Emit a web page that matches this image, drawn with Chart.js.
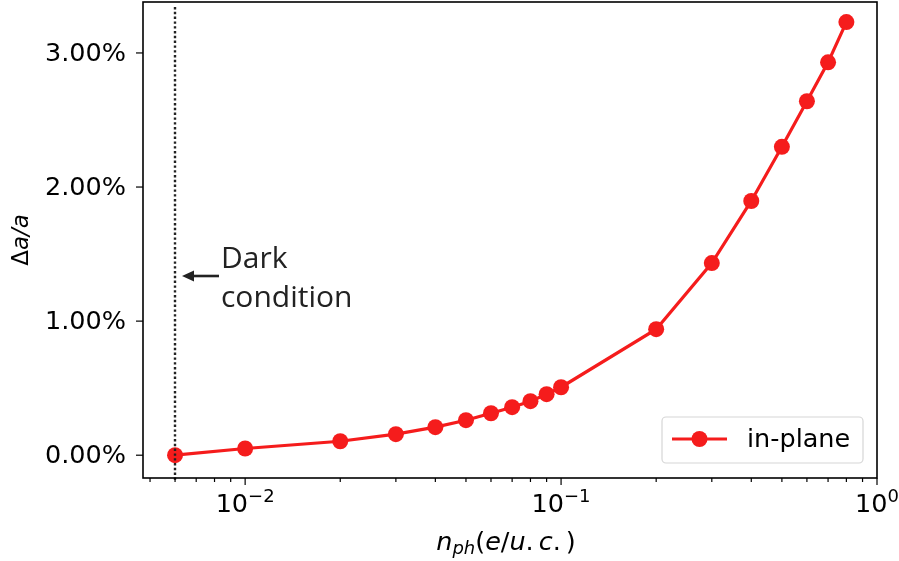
<!DOCTYPE html>
<html>
<head>
<meta charset="utf-8">
<script src="https://cdn.jsdelivr.net/npm/chart.js@4/dist/chart.umd.min.js"></script>
<style>
    html, body { margin: 0; padding: 0; background: #fff; }
    #wrap { width: 899px; height: 561px; position: relative; }
</style>
</head>
<body>
<div id="wrap"><canvas id="chart" width="899" height="561"></canvas></div>
<script>
// photo-excited carrier density (e/u.c.) and in-plane strain (%)
const nph = [0.006, 0.01, 0.02, 0.03, 0.04, 0.05, 0.06, 0.07, 0.08, 0.09, 0.1, 0.2, 0.3, 0.4, 0.5, 0.6, 0.7, 0.8];
const inPlane = [0, 0.05, 0.104, 0.157, 0.209, 0.261, 0.313, 0.358, 0.403, 0.455, 0.507, 0.94, 1.433, 1.896, 2.30, 2.64, 2.93, 3.23];

const yTicks = [0, 1, 2, 3];
const xMajor = [0.01, 0.1, 1];
const xMinor = [0.005, 0.006, 0.007, 0.008, 0.009, 0.02, 0.03, 0.04, 0.05, 0.06, 0.07, 0.08, 0.09,
                0.2, 0.3, 0.4, 0.5, 0.6, 0.7, 0.8, 0.9];
const darkCondition = 0.006;

const RED = '#f51c1c';
const MPL_FONT = '"DejaVu Sans", sans-serif';
const FS = 25.5;

// matplotlib-ish axes decorations, placed through the chart's own scales
const axesDecor = {
    id: 'axesDecor',
    afterDatasetsDraw(chart) {
        const { ctx, chartArea: a, scales: { x, y } } = chart;
        ctx.save();

        // dark-condition marker line
        const xd = Math.round(x.getPixelForValue(darkCondition));
        ctx.strokeStyle = '#222';
        ctx.lineWidth = 2.4;
        ctx.setLineDash([2.4, 2.4]);
        ctx.beginPath();
        ctx.moveTo(xd, 7);
        ctx.lineTo(xd, a.bottom + 4);
        ctx.stroke();
        ctx.setLineDash([]);

        // frame
        ctx.strokeStyle = '#000';
        ctx.lineWidth = 1.6;
        ctx.strokeRect(a.left, a.top, a.right - a.left, a.bottom - a.top);

        // y ticks + labels
        ctx.lineWidth = 1.2;
        ctx.fillStyle = '#000';
        ctx.font = FS + 'px ' + MPL_FONT;
        ctx.textAlign = 'right';
        ctx.textBaseline = 'middle';
        yTicks.forEach(v => {
            const py = y.getPixelForValue(v);
            ctx.beginPath();
            ctx.moveTo(a.left, py);
            ctx.lineTo(a.left - 7, py);
            ctx.stroke();
            ctx.fillText(v.toFixed(2) + '%', a.left - 17, py + 1);
        });

        // x ticks
        xMinor.forEach(v => {
            const px = x.getPixelForValue(v);
            ctx.beginPath();
            ctx.moveTo(px, a.bottom);
            ctx.lineTo(px, a.bottom + 4);
            ctx.stroke();
        });
        xMajor.forEach(v => {
            const px = x.getPixelForValue(v);
            ctx.beginPath();
            ctx.moveTo(px, a.bottom);
            ctx.lineTo(px, a.bottom + 7);
            ctx.stroke();

            // 10^k label
            const k = Math.round(Math.log10(v));
            const sup = k === 0 ? '0' : '\u2212' + Math.abs(k);
            ctx.textBaseline = 'alphabetic';
            ctx.textAlign = 'left';
            ctx.font = FS + 'px ' + MPL_FONT;
            const wBase = ctx.measureText('10').width;
            ctx.font = '18px ' + MPL_FONT;
            const wSup = ctx.measureText(sup).width;
            const x0 = px - (wBase + wSup) / 2;
            ctx.font = FS + 'px ' + MPL_FONT;
            ctx.fillText('10', x0, 512);
            ctx.font = '18px ' + MPL_FONT;
            ctx.fillText(sup, x0 + wBase, 502);
        });

        // y axis title: Δa/a
        ctx.save();
        ctx.translate(28, (a.top + a.bottom) / 2);
        ctx.rotate(-Math.PI / 2);
        ctx.textAlign = 'left';
        ctx.textBaseline = 'alphabetic';
        const parts = [['\u0394', ''], ['a/a', 'oblique ']];
        let tw = 0;
        parts.forEach(p => { ctx.font = p[1] + '23px ' + MPL_FONT; tw += ctx.measureText(p[0]).width; });
        let cx = -tw / 2;
        parts.forEach(p => {
            ctx.font = p[1] + '23px ' + MPL_FONT;
            ctx.fillText(p[0], cx, 0);
            cx += ctx.measureText(p[0]).width;
        });
        ctx.restore();

        // x axis title: n_ph(e/u.c.)  [text, style, size, dy, gap after]
        const xl = [
            ['n', 'oblique ', FS, 0, 0], ['ph', 'oblique ', 18, 4, 0],
            ['(', '', FS, 0, 0], ['e', 'oblique ', FS, 0, 0], ['/', '', FS, 0, 0],
            ['u', 'oblique ', FS, 0, 0], ['.', '', FS, 0, 5],
            ['c', 'oblique ', FS, 0, 0], ['.', '', FS, 0, 5], [')', '', FS, 0, 0]
        ];
        let xw = 0;
        xl.forEach(p => { ctx.font = p[1] + p[2] + 'px ' + MPL_FONT; xw += ctx.measureText(p[0]).width + p[4]; });
        let lx = (a.left + a.right) / 2 - xw / 2 - 4;
        xl.forEach(p => {
            ctx.font = p[1] + p[2] + 'px ' + MPL_FONT;
            ctx.fillText(p[0], lx, 550 + p[3]);
            lx += ctx.measureText(p[0]).width + p[4];
        });

        // annotation arrow + text
        const ay = 276;
        ctx.strokeStyle = '#222';
        ctx.fillStyle = '#222';
        ctx.lineWidth = 2.6;
        ctx.beginPath();
        ctx.moveTo(219, ay);
        ctx.lineTo(190, ay);
        ctx.stroke();
        ctx.beginPath();
        ctx.moveTo(182, ay);
        ctx.lineTo(194, ay - 5.5);
        ctx.lineTo(194, ay + 5.5);
        ctx.closePath();
        ctx.fill();
        ctx.font = '30px "Open Sans", sans-serif';
        ctx.textAlign = 'left';
        ctx.fillText('Dark', 221, 268);
        ctx.fillText('condition', 221, 307);

        // legend
        const lb = { l: 662, t: 417, r: 863, b: 463 };
        ctx.fillStyle = 'rgba(255,255,255,0.8)';
        ctx.strokeStyle = '#d6d6d6';
        ctx.lineWidth = 1.2;
        ctx.beginPath();
        ctx.roundRect(lb.l, lb.t, lb.r - lb.l, lb.b - lb.t, 4);
        ctx.fill();
        ctx.stroke();
        const ly = 439;
        ctx.strokeStyle = RED;
        ctx.lineWidth = 3;
        ctx.beginPath();
        ctx.moveTo(672, ly);
        ctx.lineTo(727, ly);
        ctx.stroke();
        ctx.fillStyle = RED;
        ctx.beginPath();
        ctx.arc(699.5, ly, 8, 0, Math.PI * 2);
        ctx.fill();
        ctx.fillStyle = '#000';
        ctx.font = FS + 'px ' + MPL_FONT;
        ctx.textBaseline = 'alphabetic';
        ctx.fillText('in-plane', 747, 447);

        ctx.restore();
    }
};

new Chart(document.getElementById('chart'), {
    type: 'scatter',
    data: {
        datasets: [{
            label: 'in-plane',
            data: nph.map((v, i) => ({ x: v, y: inPlane[i] })),
            showLine: true,
            borderColor: RED,
            backgroundColor: RED,
            borderWidth: 3.2,
            pointRadius: 8,
            pointBorderWidth: 0,
            clip: false
        }]
    },
    options: {
        responsive: false,
        animation: false,
        layout: { autoPadding: false, padding: { left: 143, right: 22, top: 2, bottom: 83 } },
        plugins: { legend: { display: false }, tooltip: { enabled: false } },
        scales: {
            x: {
                type: 'logarithmic',
                display: false,
                min: 0.00475,
                max: 1
            },
            y: {
                type: 'linear',
                display: false,
                min: -0.17,
                max: 3.38
            }
        }
    },
    plugins: [axesDecor]
});
</script>
</body>
</html>
